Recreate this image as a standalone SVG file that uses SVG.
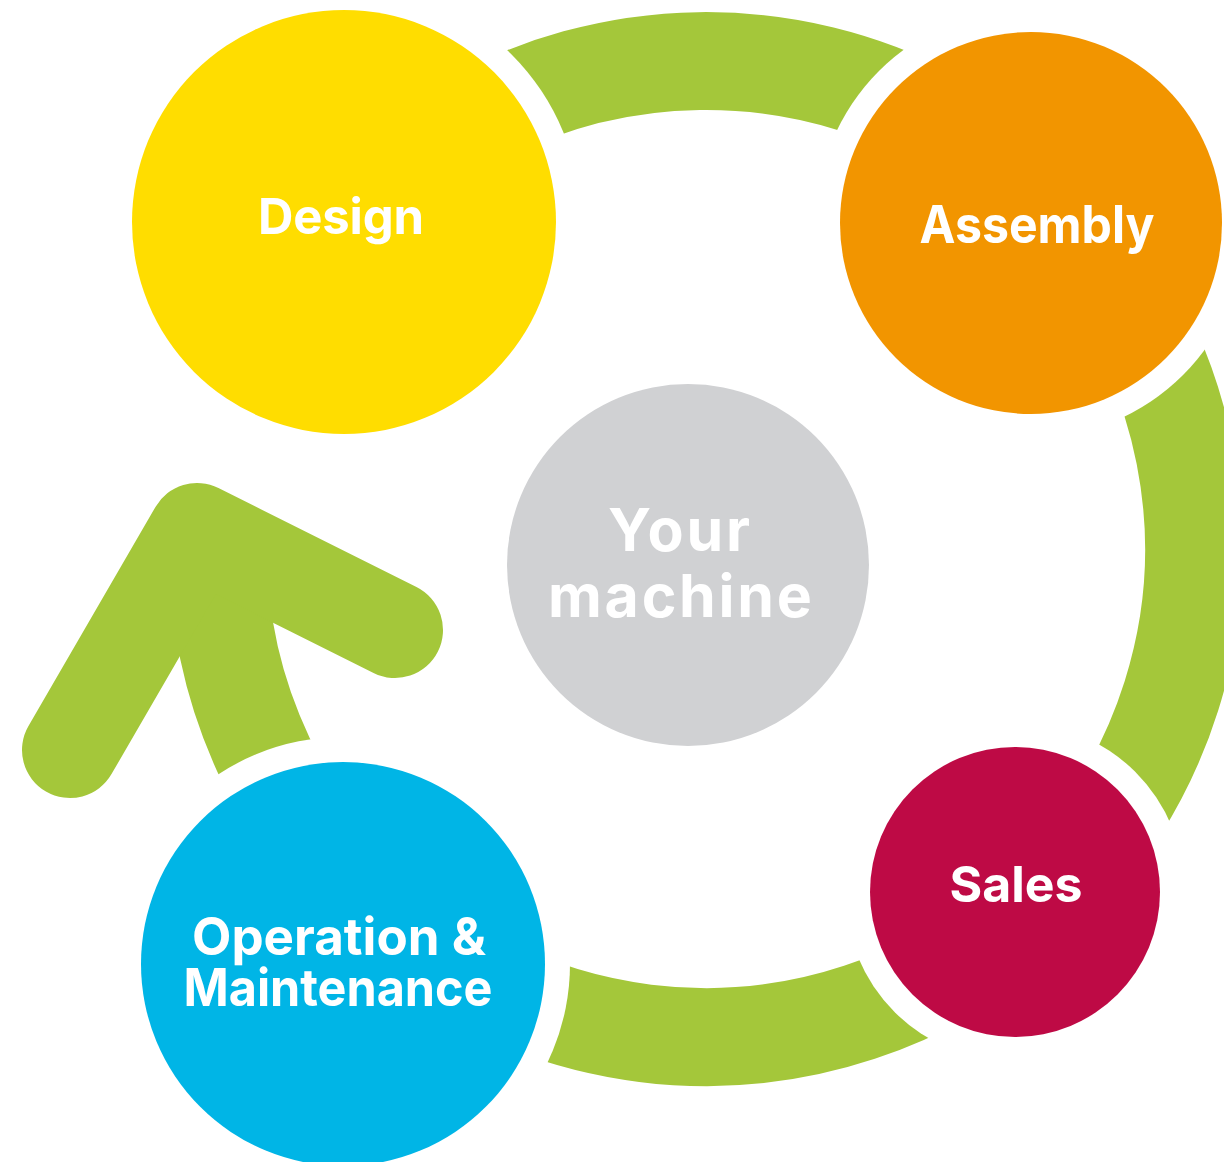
<svg xmlns="http://www.w3.org/2000/svg" width="1224" height="1162" viewBox="0 0 1224 1162">
<style>
.lbl{font-family:Inter,"Open Sans","Liberation Sans",sans-serif;font-weight:700;fill:#fff;text-anchor:middle}
.green{fill:none;stroke:#A4C73A;stroke-width:98}
.gap{fill:#fff}
</style>
<rect width="1224" height="1162" fill="#fff"/>
<g id="connectors">
<path class="green" d="M218,549 A488,488 0 1 0 306.3,269.1"/>
<polyline points="70,750 197,531 395,630" fill="none" stroke="#A4C73A" stroke-width="96" stroke-linecap="round" stroke-linejoin="round"/>
</g>
<g id="gaps">
<circle class="gap" cx="344" cy="222" r="237"/>
<circle class="gap" cx="1031" cy="223" r="215"/>
<circle class="gap" cx="1015" cy="892" r="170"/>
<circle class="gap" cx="343" cy="964" r="227"/>
</g>
<g id="design"><circle cx="344" cy="222" r="212" fill="#FFDD00"/><text class="lbl" x="341" y="234" font-size="49" textLength="166">Design</text></g>
<g id="assembly"><circle cx="1031" cy="223" r="191" fill="#F29500"/><text class="lbl" x="1037" y="243" font-size="52" textLength="235" lengthAdjust="spacingAndGlyphs">Assembly</text></g>
<g id="machine"><circle cx="688" cy="565" r="181" fill="#D0D1D3"/><text class="lbl" x="679" y="551" font-size="59" textLength="142">Your</text><text class="lbl" x="680" y="617" font-size="59" textLength="264">machine</text></g>
<g id="sales"><circle cx="1015" cy="892" r="145" fill="#BE0A45"/><text class="lbl" x="1016" y="902" font-size="50" textLength="133">Sales</text></g>
<g id="operation"><circle cx="343" cy="964" r="202" fill="#00B5E6"/><text class="lbl" x="339" y="955" font-size="52" textLength="294" lengthAdjust="spacingAndGlyphs">Operation &amp;</text><text class="lbl" x="338" y="1006" font-size="52" textLength="309" lengthAdjust="spacingAndGlyphs">Maintenance</text></g>
</svg>
